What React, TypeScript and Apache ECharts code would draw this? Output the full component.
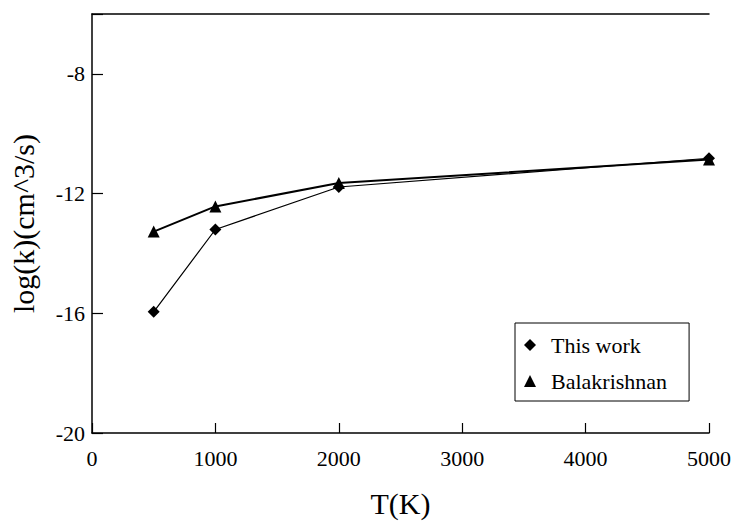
import React, { useEffect, useRef } from "react";
import * as echarts from "echarts";

const temperatures = [500, 1000, 2000, 5000];
const thisWork = [-15.95, -13.2, -11.78, -10.82];
const balakrishnan = [-13.27, -12.43, -11.65, -10.86];
const xTicks = [0, 1000, 2000, 3000, 4000, 5000];
const yTickLabels = ["-20", "-16", "-12", "-8"];
const seriesNames = ["This work", "Balakrishnan"];

const FONT = "Liberation Serif";

export default function App() {
  const ref = useRef<HTMLDivElement>(null);
  useEffect(() => {
    if (!ref.current) return;
    const chart = echarts.init(ref.current, undefined, { renderer: "svg" });
    chart.setOption({
      animation: false,
      backgroundColor: "#fff",
      textStyle: { fontFamily: FONT, color: "#000" },
      grid: { left: 92, top: 14, right: 27, bottom: 92 },
      legend: {
        left: 515,
        top: 323,
        orient: "vertical",
        borderColor: "#000",
        borderWidth: 1,
        borderRadius: 0,
        padding: [11, 22, 9, 9],
        itemGap: 14,
        itemWidth: 12,
        itemHeight: 12,
        textStyle: { fontFamily: FONT, fontSize: 22, color: "#000", padding: [0, 0, 0, 10] },
        data: [
          { name: seriesNames[0], icon: "diamond" },
          { name: seriesNames[1], icon: "triangle" },
        ],
      },
      xAxis: [
        {
          type: "value",
          min: xTicks[0],
          max: xTicks[xTicks.length - 1],
          interval: 1000,
          name: "T(K)",
          nameLocation: "middle",
          nameGap: 55,
          nameTextStyle: { fontFamily: FONT, fontSize: 30, color: "#000" },
          axisLine: { lineStyle: { color: "#000", width: 1.5 } },
          axisTick: { inside: true, length: 10, lineStyle: { color: "#000", width: 1.2 } },
          axisLabel: {
            fontFamily: FONT,
            fontSize: 22,
            color: "#000",
            margin: 14,
            formatter: (v: number) => String(v),
          },
          splitLine: { show: false },
        },
        {
          type: "value",
          position: "top",
          min: 0,
          max: 5000,
          axisLine: { show: true, lineStyle: { color: "#000", width: 1.5 } },
          axisTick: { show: false },
          axisLabel: { show: false },
          splitLine: { show: false },
        },
      ],
      yAxis: {
        type: "value",
        min: -20,
        max: -6,
        interval: 4,
        name: "log(k)(cm^3/s)",
        nameLocation: "middle",
        nameGap: 54,
        nameRotate: 90,
        nameTextStyle: { fontFamily: FONT, fontSize: 30, color: "#000" },
        axisLine: { show: true, lineStyle: { color: "#000", width: 1.5 } },
        axisTick: { inside: true, length: 11, lineStyle: { color: "#000", width: 1.2 } },
        axisLabel: {
          fontFamily: FONT,
          fontSize: 22,
          color: "#000",
          margin: 7,
          formatter: (v: number) => (yTickLabels.includes(String(v)) ? String(v) : ""),
        },
        splitLine: { show: false },
      },
      series: [
        {
          name: seriesNames[0],
          type: "line",
          data: temperatures.map((t, i) => [t, thisWork[i]]),
          symbol: "diamond",
          symbolSize: 12,
          itemStyle: { color: "#000" },
          lineStyle: { color: "#000", width: 1.2 },
        },
        {
          name: seriesNames[1],
          type: "line",
          data: temperatures.map((t, i) => [t, balakrishnan[i]]),
          symbol: "triangle",
          symbolSize: 12,
          itemStyle: { color: "#000" },
          lineStyle: { color: "#000", width: 2 },
        },
      ],
    });
    return () => chart.dispose();
  }, []);
  return <div ref={ref} style={{ width: 736, height: 525, position: "absolute", left: 0, top: 0 }} />;
}
